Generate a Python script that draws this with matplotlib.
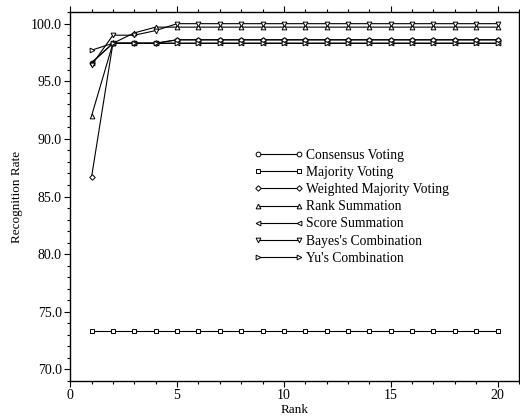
import matplotlib.pyplot as plt
from matplotlib.ticker import MultipleLocator, FormatStrFormatter

plt.rcParams['font.family'] = ['Liberation Serif', 'DejaVu Serif']

rank = list(range(1, 21))
consensus = [96.6, 98.3, 98.3, 98.3] + [98.6] * 16
majority = [73.3] * 20
weighted = [86.7, 98.3, 98.3, 98.3] + [98.6] * 16
rank_sum = [92.0, 98.3, 99.2, 99.7] + [99.7] * 16
score_sum = [96.6, 98.3, 98.3, 98.3] + [98.3] * 16
bayes = [96.4, 99.0, 99.0, 99.4] + [100.0] * 16
yu = [97.7, 98.3, 98.3, 98.3] + [98.3] * 16

series = [
    (consensus, 'o', 'Consensus Voting'),
    (majority, 's', 'Majority Voting'),
    (weighted, 'D', 'Weighted Majority Voting'),
    (rank_sum, '^', 'Rank Summation'),
    (score_sum, '<', 'Score Summation'),
    (bayes, 'v', "Bayes's Combination"),
    (yu, '>', "Yu's Combination"),
]

fig = plt.figure(figsize=(5.2, 4.19), dpi=100)
ax = fig.add_axes([0.135, 0.091, 0.863, 0.880])

for vals, m, lab in series:
    ms = 2.8 if m == 'D' else 3.4
    ax.plot(rank, vals, color='black', lw=0.8, marker=m, ms=ms,
            mfc='white', mec='black', mew=0.7, label=lab)

ax.set_xlim(0, 21)
ax.set_ylim(69, 101)
ax.xaxis.set_major_locator(MultipleLocator(5))
ax.xaxis.set_minor_locator(MultipleLocator(1))
ax.yaxis.set_major_locator(MultipleLocator(5))
ax.yaxis.set_minor_locator(MultipleLocator(1))
ax.yaxis.set_major_formatter(FormatStrFormatter('%.1f'))
ax.tick_params(which='both', direction='out', top=True, right=True,
               labelsize=10, width=0.8, pad=2)
ax.tick_params(which='major', length=4)
ax.tick_params(which='minor', length=2)
for s in ax.spines.values():
    s.set_linewidth(1.0)

ax.set_xlabel('Rank', fontsize=9.5, labelpad=1)
ax.set_ylabel('Recognition Rate', fontsize=9.5, labelpad=6)

ax.legend(loc='center left', bbox_to_anchor=(0.395, 0.472), frameon=False,
          fontsize=9.8, numpoints=2, handlelength=3.6, handletextpad=0.2,
          labelspacing=0.3, borderpad=0)

fig.savefig('out.png', dpi=100)
